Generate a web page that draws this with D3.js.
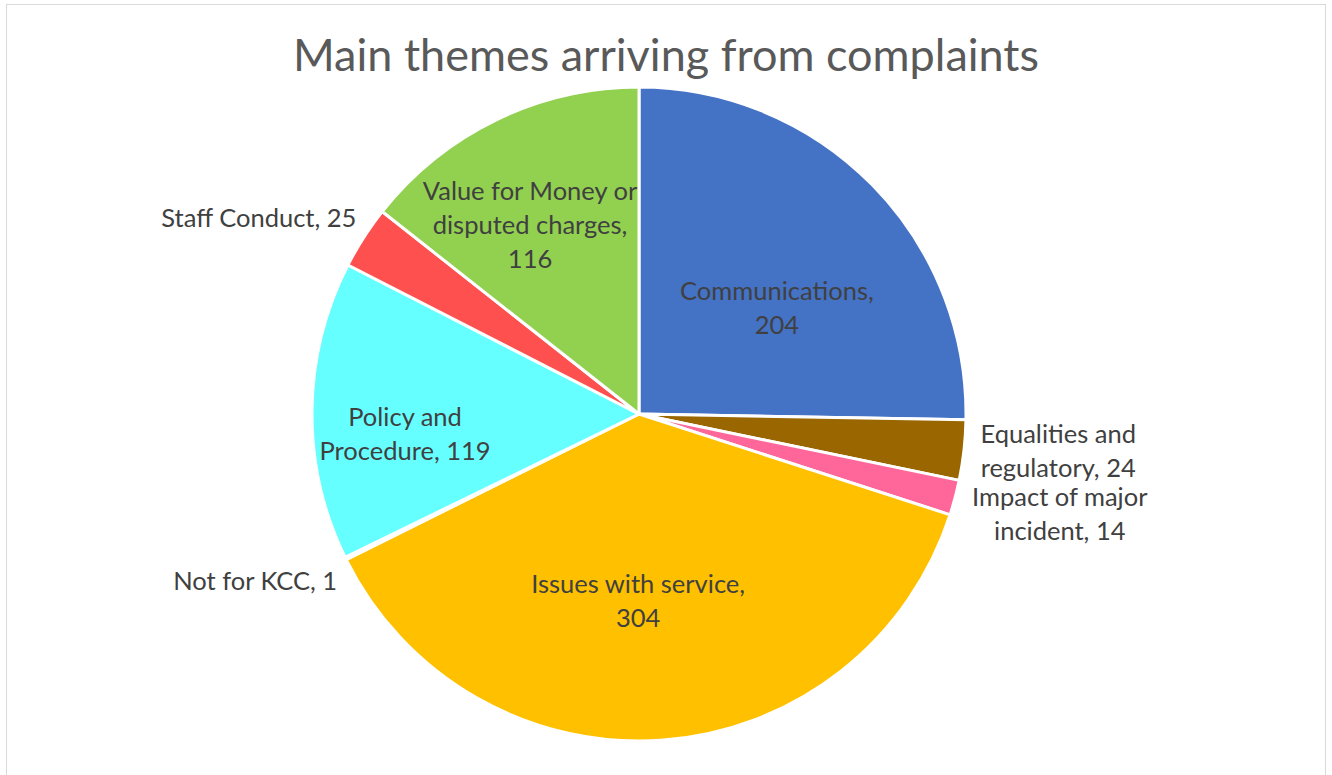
<!DOCTYPE html>
<html>
<head>
<meta charset="utf-8">
<script src="https://cdn.jsdelivr.net/npm/d3@7"></script>
<style>
  html, body { margin: 0; padding: 0; background: #ffffff; }
  svg { display: block; }
</style>
</head>
<body>
<svg id="chart" width="1332" height="775"></svg>
<script>
// Complaint themes, clockwise from 12 o'clock
const categories = [
  "Communications",
  "Equalities and regulatory",
  "Impact of major incident",
  "Issues with service",
  "Not for KCC",
  "Policy and Procedure",
  "Staff Conduct",
  "Value for Money or disputed charges"
];
const counts = [204, 24, 14, 304, 1, 119, 25, 116];
const sliceColors = ["#4472C4", "#996600", "#FF6699", "#FFC000", "#8FAADC", "#66FFFF", "#FF5050", "#92D050"];
// Label lines as displayed (category name wrapped, value appended)
const labelLines = [
  ["Communications,", "204"],
  ["Equalities and", "regulatory, 24"],
  ["Impact of major", "incident, 14"],
  ["Issues with service,", "304"],
  ["Not for KCC, 1"],
  ["Policy and", "Procedure, 119"],
  ["Staff Conduct, 25"],
  ["Value for Money or", "disputed charges,", "116"]
];

const title = "Main themes arriving from complaints";

const W = 1332, H = 775;
const cx = 639, cy = 414, R = 327;
const FONT = "Lato, 'Open Sans', 'DejaVu Sans', sans-serif";

// Label placement: radius as fraction of R and angular shift (deg) from slice mid-angle
const labelPlace = [
  { r: 0.531, turn: 7.1 },
  { r: 1.287, turn: -1.3 },
  { r: 1.323, turn: -1.4 },
  { r: 0.572, turn: 4.5 },
  { r: 1.280, turn: 2.7 },
  { r: 0.718, turn: -5.4 },
  { r: 1.308, turn: -5.4 },
  { r: 0.667, turn: -4.1 }
];

const svg = d3.select("#chart");

// chart frame
svg.append("rect")
  .attr("x", 6.5).attr("y", 4.5)
  .attr("width", 1319).attr("height", 790)
  .attr("fill", "#ffffff")
  .attr("stroke", "#d9d9d9")
  .attr("stroke-width", 1);

svg.append("text")
  .attr("x", 666).attr("y", 71)
  .attr("text-anchor", "middle")
  .attr("font-family", FONT)
  .attr("font-size", 45)
  .attr("fill", "#595959")
  .text(title);

const data = categories.map((c, i) => ({ name: c, value: counts[i], color: sliceColors[i], lines: labelLines[i], place: labelPlace[i] }));

const pie = d3.pie().value(d => d.value).sort(null);
const arcs = pie(data);
const arc = d3.arc().innerRadius(0).outerRadius(R);

const g = svg.append("g").attr("transform", `translate(${cx},${cy})`);

g.selectAll("path.slice")
  .data(arcs)
  .join("path")
  .attr("class", "slice")
  .attr("d", arc)
  .attr("fill", d => d.data.color)
  .attr("stroke", "#ffffff")
  .attr("stroke-width", 3)
  .attr("stroke-linejoin", "round");

const lineH = 34;
g.selectAll("text.lbl")
  .data(arcs)
  .join("text")
  .attr("class", "lbl")
  .attr("text-anchor", "middle")
  .attr("font-family", FONT)
  .attr("font-size", 25.5)
  .attr("fill", "#404040")
  .each(function (d) {
    const mid = (d.startAngle + d.endAngle) / 2 + d.data.place.turn * Math.PI / 180;
    const rr = d.data.place.r * R;
    const x = Math.sin(mid) * rr;
    const y = -Math.cos(mid) * rr;
    const n = d.data.lines.length;
    const t = d3.select(this);
    d.data.lines.forEach((ln, k) => {
      t.append("tspan")
        .attr("x", x)
        .attr("y", y + (k - (n - 1) / 2) * lineH)
        .attr("dy", "0.35em")
        .text(ln);
    });
  });
</script>
</body>
</html>
